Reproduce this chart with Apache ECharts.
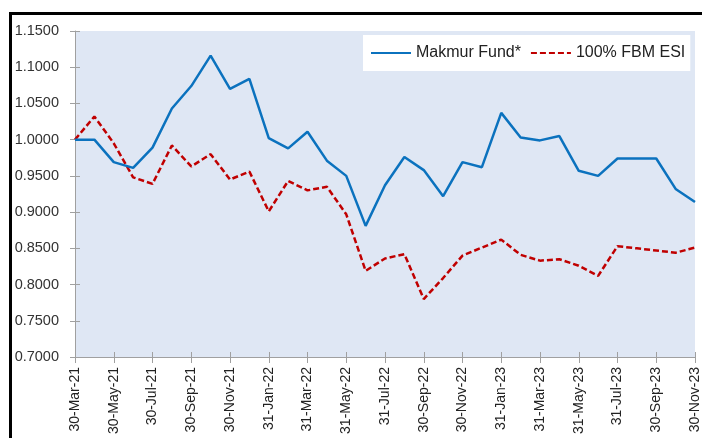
<!DOCTYPE html>
<html>
<head>
<meta charset="utf-8">
<script src="https://cdn.jsdelivr.net/npm/echarts@6/dist/echarts.min.js"></script>
<style>html,body{margin:0;padding:0;background:#fff}#c{width:702px;height:438px}</style>
</head>
<body>
<div id="c"></div>
<script>
const categories = ["30-Mar-21","30-Apr-21","30-May-21","30-Jun-21","30-Jul-21","30-Aug-21","30-Sep-21","30-Oct-21","30-Nov-21","31-Dec-21",
  "31-Jan-22","28-Feb-22","31-Mar-22","30-Apr-22","31-May-22","30-Jun-22","31-Jul-22","31-Aug-22","30-Sep-22","31-Oct-22","30-Nov-22","31-Dec-22",
  "31-Jan-23","28-Feb-23","31-Mar-23","30-Apr-23","31-May-23","30-Jun-23","31-Jul-23","31-Aug-23","30-Sep-23","31-Oct-23","30-Nov-23"];
const fundName = "Makmur Fund*";
const fundValues = [1.000,1.000,0.969,0.961,0.989,1.043,1.074,1.116,1.070,1.084,
  1.002,0.988,1.011,0.971,0.950,0.881,0.937,0.976,0.958,0.922,0.969,0.962,
  1.037,1.003,0.999,1.005,0.957,0.950,0.974,0.974,0.974,0.932,0.914];
const benchName = "100% FBM ESI";
const benchValues = [1.000,1.032,0.995,0.948,0.939,0.992,0.963,0.980,0.945,0.956,
  0.901,0.943,0.930,0.935,0.897,0.819,0.836,0.842,0.780,0.809,0.840,0.851,
  0.862,0.841,0.833,0.835,0.826,0.812,0.853,0.850,0.847,0.844,0.851];
const yTicks = {min: 0.70, max: 1.15, step: 0.05};

const FONT = "Liberation Sans";
const chart = echarts.init(document.getElementById('c'), null, {renderer: 'canvas'});
const axisGray = '#A0A0A0';
chart.setOption({
  animation: false,
  backgroundColor: '#ffffff',
  textStyle: {fontFamily: FONT},
  graphic: [{
    type: 'rect', left: 8, top: 11, z: 100,
    shape: {width: 720, height: 460},
    style: {fill: 'none', stroke: '#000', lineWidth: 3}
  }],
  grid: {left: 75, right: 6, top: 31, bottom: 81, show: true, backgroundColor: '#DFE7F4', borderWidth: 0},
  legend: {
    left: 363, top: 35, width: 330, orient: 'horizontal', backgroundColor: '#ffffff',
    padding: [10, 5, 10, 7], itemWidth: 40, itemHeight: 14, itemGap: 9,
    itemStyle: {opacity: 0},
    textStyle: {fontSize: 16, color: '#222', fontFamily: FONT},
    data: [fundName, benchName]
  },
  xAxis: [{
    type: 'category', data: categories, boundaryGap: false,
    axisLine: {lineStyle: {color: axisGray, width: 1}},
    axisTick: {interval: 1, length: 6, lineStyle: {color: axisGray}},
    axisLabel: {interval: 1, rotate: 90, margin: 10, fontSize: 14, color: '#222', fontFamily: FONT},
    splitLine: {show: false}
  }, {
    type: 'category', data: categories, boundaryGap: false, position: 'bottom',
    axisLine: {show: false},
    axisTick: {interval: 1, inside: true, length: 5, lineStyle: {color: axisGray}},
    axisLabel: {show: false}, splitLine: {show: false}
  }],
  yAxis: [{
    type: 'value', min: yTicks.min, max: yTicks.max, interval: yTicks.step,
    axisLine: {show: true, lineStyle: {color: axisGray}},
    axisTick: {show: true, length: 5, lineStyle: {color: axisGray}},
    axisLabel: {fontSize: 14.5, color: '#333', margin: 16, formatter: v => v.toFixed(4), fontFamily: FONT},
    splitLine: {show: false}
  }, {
    type: 'value', min: yTicks.min, max: yTicks.max, interval: yTicks.step, position: 'left',
    axisLine: {show: false},
    axisTick: {show: true, inside: true, length: 5, lineStyle: {color: axisGray}},
    axisLabel: {show: false}, splitLine: {show: false}
  }],
  series: [{
    name: fundName, type: 'line', data: fundValues, symbol: 'none',
    lineStyle: {color: '#0B72BE', width: 2.5}, itemStyle: {color: '#0B72BE'}, z: 3
  }, {
    name: benchName, type: 'line', data: benchValues, symbol: 'none',
    lineStyle: {color: '#C00000', width: 2.5, type: [6, 3]}, itemStyle: {color: '#C00000'}, z: 2
  }]
});
</script>
</body>
</html>
